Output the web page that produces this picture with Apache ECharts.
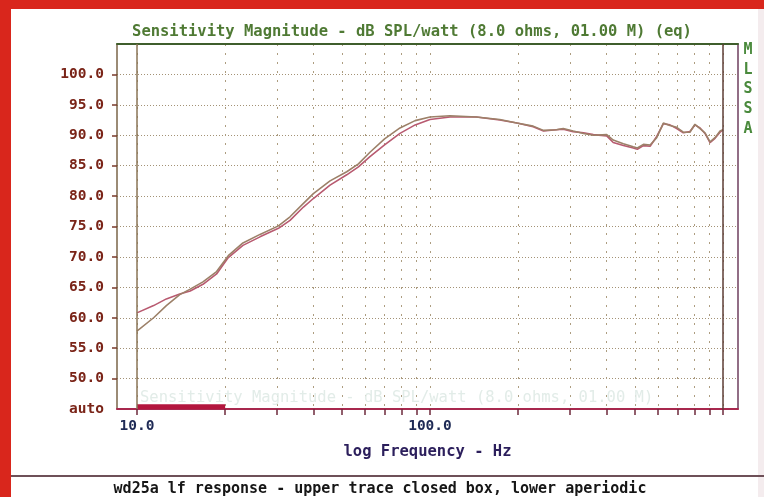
<!DOCTYPE html>
<html>
<head>
<meta charset="utf-8">
<script src="https://cdn.jsdelivr.net/npm/echarts@6/dist/echarts.min.js"></script>
<style>
  html, body { margin: 0; padding: 0; background: #ffffff; }
  #chart { width: 764px; height: 497px; }
</style>
</head>
<body>
<div id="chart"></div>
<script>
// Frequency points (Hz) of the two sensitivity traces
const freqHz = [10, 11.4, 12.6, 14, 15.2, 16.8, 18.7, 20.5, 23, 26.3, 30.4, 33.3, 37, 40, 45.6,
  52, 57, 62.4, 70, 79, 89, 100, 117, 144, 173, 198, 225, 244, 270, 285, 308, 334, 361, 401,
  422, 457, 494, 510, 535, 564, 594, 626, 659, 695, 732, 771, 802, 835, 868, 903, 939, 977, 1000];

// Upper trace at low frequency: closed box (dB SPL/watt)
const closedBoxDb = [60.8, 62.0, 63.1, 63.9, 64.4, 65.5, 67.2, 69.9, 71.9, 73.3, 74.7, 76.0, 78.2, 79.6, 81.8,
  83.5, 84.8, 86.5, 88.4, 90.3, 91.7, 92.6, 93.0, 93.0, 92.5, 92.0, 91.4, 90.7, 90.9, 91.0, 90.6, 90.4, 90.1, 89.9,
  88.8, 88.3, 87.9, 87.7, 88.3, 88.2, 89.8, 91.9, 91.7, 91.1, 90.4, 90.6, 91.7, 91.2, 90.3, 88.8, 89.5, 90.5, 90.9];

// Lower trace at low frequency: aperiodic (dB SPL/watt)
const aperiodicDb = [57.8, 60.0, 62.0, 63.8, 64.7, 65.9, 67.6, 70.2, 72.3, 73.7, 75.1, 76.6, 78.8, 80.4, 82.5,
  84.0, 85.3, 87.2, 89.4, 91.2, 92.4, 93.0, 93.2, 93.0, 92.6, 92.0, 91.5, 90.8, 90.9, 91.1, 90.7, 90.3, 90.0, 90.1,
  89.2, 88.6, 88.1, 87.9, 88.5, 88.4, 89.6, 92.0, 91.6, 91.3, 90.5, 90.5, 91.8, 91.1, 90.4, 88.9, 89.6, 90.7, 90.9];

// Axis scales
const yTickValues = [50, 55, 60, 65, 70, 75, 80, 85, 90, 95, 100];
const yLabelValues = [45, 50, 55, 60, 65, 70, 75, 80, 85, 90, 95, 100];
const yMin = 45, yMax = 105;
const gridFreqs = [10, 20, 30, 40, 50, 60, 70, 80, 90, 100, 200, 300, 400, 500, 600, 700, 800, 900, 1000];
const labelFreqs = [10, 100];
const edgeFreqs = [10, 1000];
const lowBandHz = [10, 20];
const xMinHz = 8.55, xMaxHz = 1125;

const lg = Math.log10;
const toPairs = (ys) => freqHz.map((f, i) => [lg(f), ys[i]]);

const mono = "'DejaVu Sans Mono', 'Liberation Mono', monospace";

const chart = echarts.init(document.getElementById('chart'), null, { renderer: 'canvas' });

chart.setOption({
  animation: false,
  backgroundColor: '#ffffff',
  title: {
    text: 'Sensitivity Magnitude - dB SPL/watt (8.0 ohms, 01.00 M) (eq)',
    left: 407, top: 19, textAlign: 'center',
    textStyle: { fontFamily: mono, fontSize: 15.5, fontWeight: 'bold', color: '#4f7a34' }
  },
  grid: { left: 117, top: 44, right: 26, bottom: 88, containLabel: false },
  xAxis: [{
    type: 'value',
    min: lg(xMinHz), max: lg(xMaxHz),
    name: 'log Frequency - Hz',
    nameLocation: 'middle', nameGap: 35,
    nameTextStyle: { fontFamily: mono, fontSize: 15.5, fontWeight: 'bold', color: '#2c1f5c' },
    axisLine: { show: true, onZero: false, lineStyle: { color: '#a8284e', width: 2 } },
    axisTick: { show: true, inside: false, length: 6, customValues: gridFreqs.map(lg),
      lineStyle: { color: '#6e2a3c', width: 1.5 } },
    axisLabel: { show: true, margin: 10, customValues: labelFreqs.map(lg),
      formatter: (v) => Math.pow(10, v).toFixed(1),
      fontFamily: mono, fontSize: 14.5, fontWeight: 'bold', color: '#1e2a55' },
    splitLine: { show: true, lineStyle: { color: '#ad9d80', width: 1, type: [2, 7] } }
  }, {
    type: 'value', position: 'top',
    min: lg(xMinHz), max: lg(xMaxHz),
    axisLine: { show: true, onZero: false, lineStyle: { color: '#3f5e2c', width: 2 } },
    axisTick: { show: false }, axisLabel: { show: false }, splitLine: { show: false }
  }],
  yAxis: [{
    type: 'value', min: yMin, max: yMax, interval: 5,
    axisLine: { show: true, onZero: false, lineStyle: { color: '#7a6448', width: 1.5 } },
    axisTick: { show: true, inside: false, length: 5, customValues: yTickValues,
      lineStyle: { color: '#7a3a2a', width: 1.5 } },
    axisLabel: { show: true, margin: 13, customValues: yLabelValues,
      formatter: (v) => (v === yMin ? 'auto' : v.toFixed(1)),
      fontFamily: mono, fontSize: 14.5, fontWeight: 'bold', color: '#7a2418' },
    splitLine: { show: true, lineStyle: { color: '#a39276', width: 1, type: [1, 2] } }
  }, {
    type: 'value', position: 'right', min: yMin, max: yMax,
    axisLine: { show: true, onZero: false, lineStyle: { color: '#6e3e5e', width: 1.5 } },
    axisTick: { show: false }, axisLabel: { show: false }, splitLine: { show: false }
  }],
  series: [{
    name: 'closed box',
    type: 'line',
    data: toPairs(closedBoxDb),
    showSymbol: false,
    lineStyle: { color: '#b85a70', width: 1.6 },
    z: 3,
    markLine: {
      silent: true, symbol: 'none', label: { show: false },
      data: [
        { xAxis: lg(edgeFreqs[0]), lineStyle: { color: '#8a7456', width: 1.5, type: 'solid' } },
        { xAxis: lg(edgeFreqs[1]), lineStyle: { color: '#5e3e36', width: 1.5, type: 'solid' } }
      ]
    },
    markArea: {
      silent: true,
      itemStyle: { color: '#b3163e' },
      data: [[{ coord: [lg(lowBandHz[0]), yMin] }, { coord: [lg(lowBandHz[1]), yMin + 0.8] }]]
    }
  }, {
    name: 'aperiodic',
    type: 'line',
    data: toPairs(aperiodicDb),
    showSymbol: false,
    lineStyle: { color: '#9c8068', width: 1.6 },
    z: 4
  }],
  graphic: [
    { type: 'rect', shape: { x: 0, y: 0, width: 11, height: 497 }, style: { fill: '#d9261c' }, z: 10 },
    { type: 'rect', shape: { x: 0, y: 0, width: 764, height: 9 }, style: { fill: '#d9261c' }, z: 10 },
    { type: 'rect', shape: { x: 758, y: 9, width: 6, height: 488 }, style: { fill: '#f4ecee' }, z: 1 },
    { type: 'line', shape: { x1: 11, y1: 476, x2: 764, y2: 476 }, style: { stroke: '#6e5058', lineWidth: 2 }, z: 10 },
    { type: 'text', left: 140, top: 390,
      style: { text: 'Sensitivity Magnitude - dB SPL/watt (8.0 ohms, 01.00 M)', font: '15.5px ' + mono, fill: '#e2ece8' }, z: 1 },
    { type: 'text', x: 380, y: 489,
      style: { text: 'wd25a lf response - upper trace closed box, lower aperiodic',
        font: 'bold 15px ' + mono, fill: '#161616', align: 'center', verticalAlign: 'middle' }, z: 10 },
    ...['M', 'L', 'S', 'S', 'A'].map((ch, i) => ({
      type: 'text', x: 748, y: 50 + i * 19.7,
      style: { text: ch, font: 'bold 15px ' + mono, fill: '#4a8a3c', align: 'center', verticalAlign: 'middle' }, z: 10
    }))
  ]
});
</script>
</body>
</html>
